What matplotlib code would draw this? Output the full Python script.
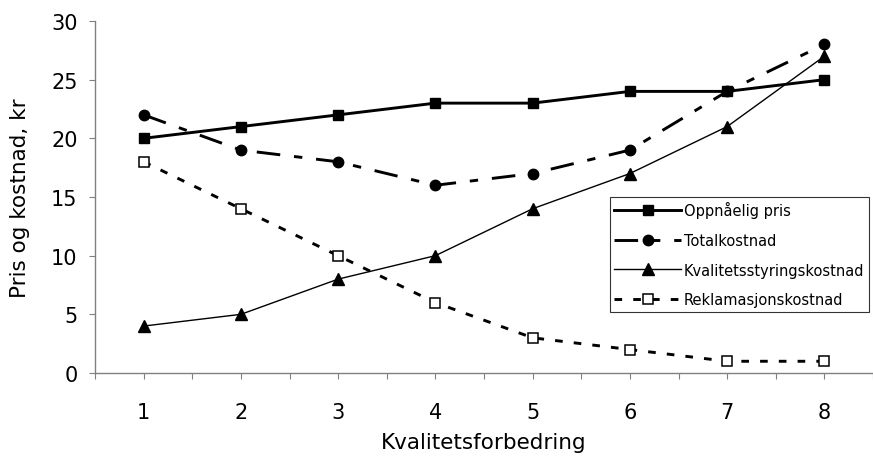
#!/usr/bin/env python3
"""Price and cost vs. quality improvement (Excel-style line chart)."""

import matplotlib

matplotlib.use("Agg")
import matplotlib.pyplot as plt

quality_steps = [1, 2, 3, 4, 5, 6, 7, 8]
achievable_price = [20, 21, 22, 23, 23, 24, 24, 25]
total_cost = [22, 19, 18, 16, 17, 19, 24, 28]
quality_control_cost = [4, 5, 8, 10, 14, 17, 21, 27]
complaint_cost = [18, 14, 10, 6, 3, 2, 1, 1]

series_labels = [
    "Oppnåelig pris",
    "Totalkostnad",
    "Kvalitetsstyringskostnad",
    "Reklamasjonskostnad",
]
y_ticks = [0, 5, 10, 15, 20, 25, 30]

plt.rcParams.update(
    {
        "font.family": "DejaVu Sans",
        "lines.scale_dashes": False,
    }
)

fig = plt.figure(figsize=(8.73, 4.64), dpi=100)
ax = fig.add_axes([95 / 873, 1 - 374 / 464, 778 / 873, 352 / 464])

ax.plot(quality_steps, achievable_price, color="black", lw=2.1, marker="s",
        markersize=7, label=series_labels[0], clip_on=False)
ax.plot(quality_steps, total_cost, color="black", lw=2.1, marker="o",
        markersize=7.5, dashes=(17, 10, 6, 10), label=series_labels[1], clip_on=False)
ax.plot(quality_steps, quality_control_cost, color="black", lw=1.0, marker="^",
        markersize=9, label=series_labels[2], clip_on=False)
ax.plot(quality_steps, complaint_cost, color="black", lw=2.1, marker="s",
        markersize=6.5, markerfacecolor="white", markeredgewidth=1.1,
        dashes=(5.5, 8), label=series_labels[3], clip_on=False)

ax.set_xlim(0.5, 8.5)
ax.set_ylim(0, 30)
ax.set_xticks(quality_steps)
ax.set_xticks([s - 0.5 for s in quality_steps] + [8.5], minor=True)
ax.set_yticks(y_ticks)

for side in ["top", "right"]:
    ax.spines[side].set_visible(False)
for side in ["left", "bottom"]:
    ax.spines[side].set_color("#808080")
    ax.spines[side].set_linewidth(1.0)

ax.tick_params(axis="x", which="both", direction="out", length=4, width=0.8,
               color="#808080", labelsize=15, pad=17)
ax.tick_params(axis="y", direction="out", length=4.5, width=0.8,
               color="#808080", labelsize=15, pad=8)

ax.set_xlabel("Kvalitetsforbedring", fontsize=15.5)
ax.set_ylabel("Pris og kostnad, kr", fontsize=15.5)
ax.xaxis.set_label_coords(0.5, -0.196)
ax.yaxis.set_label_coords(-0.096, 0.5)
ax.xaxis.label.set_va("center")
ax.yaxis.label.set_va("center")

leg = ax.legend(
    loc="upper left",
    bbox_to_anchor=((610 - 95) / 778, (374 - 198) / 352),
    fontsize=10.5,
    frameon=True,
    fancybox=False,
    handlelength=4.6,
    handletextpad=0.15,
    labelspacing=1.0,
    borderpad=0.3,
    borderaxespad=0.0,
)
leg.get_frame().set_edgecolor("black")
leg.get_frame().set_linewidth(0.8)

fig.savefig("out.png", dpi=100)
